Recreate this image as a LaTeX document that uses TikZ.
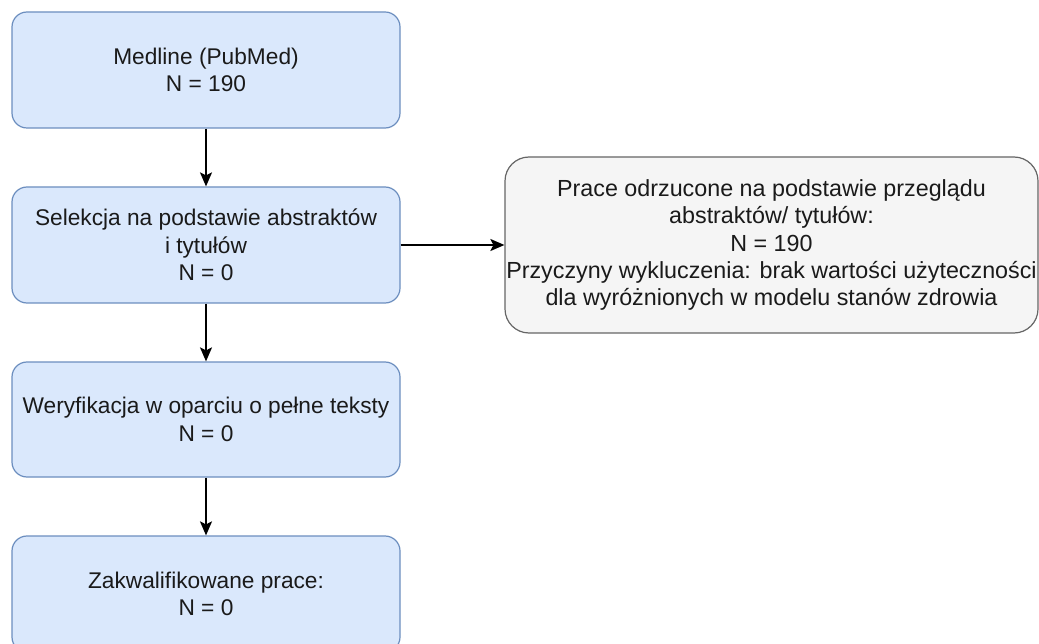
\documentclass[tikz,border=0pt]{standalone}
\usepackage{fontspec}
\setmainfont{Liberation Sans}
\usetikzlibrary{arrows.meta}
\definecolor{stepfill}{HTML}{DAE8FC}
\definecolor{stepline}{HTML}{6C8EBF}
\definecolor{notefill}{HTML}{F5F5F5}
\definecolor{noteline}{HTML}{666666}
\definecolor{txt}{HTML}{1A1A1A}
\begin{document}
\begin{tikzpicture}[x=1pt,y=-1pt,
  stepbox/.style={draw=stepline, fill=stepfill, line width=1.2pt, rounded corners=15pt,
    minimum width=388pt, minimum height=116pt, align=center, inner sep=0pt,
    text=txt, font=\fontsize{22.7}{27.5}\selectfont},
  notebox/.style={draw=noteline, fill=notefill, line width=1.2pt, rounded corners=24pt,
    minimum width=533pt, minimum height=176pt, align=center, inner sep=0pt,
    text=txt, font=\fontsize{23.3}{27.3}\selectfont},
  flow/.style={draw=black, line width=1.6pt, -{Stealth[length=14pt,width=12pt,inset=3pt]}}]
\useasboundingbox (0,0) rectangle (1039,644);
\clip (0,0) rectangle (1039,644);
\fill[white] (0,0) rectangle (1039,644);

\node[stepbox] (src) at (206,70) {Medline (PubMed)\\N = 190};
\node[stepbox] (sel) at (206,245) {Selekcja na podstawie abstraktów\\i tytułów\\N = 0};
\node[stepbox, minimum height=115pt] (ver) at (206,419.5) {Weryfikacja w oparciu o pełne teksty\\N = 0};
\node[stepbox] (ok) at (206,594) {Zakwalifikowane prace:\\N = 0};
\node[notebox] (rej) at (771.5,245) {Prace odrzucone na podstawie przeglądu\\abstraktów/ tytułów:\\N = 190\\Przyczyny wykluczenia: brak wartości użyteczności\\dla wyróżnionych w modelu stanów zdrowia};

\draw[flow] (src) -- (sel);
\draw[flow] (sel) -- (ver);
\draw[flow] (ver) -- (ok);
\draw[flow] (sel) -- (rej);
\end{tikzpicture}
\end{document}
